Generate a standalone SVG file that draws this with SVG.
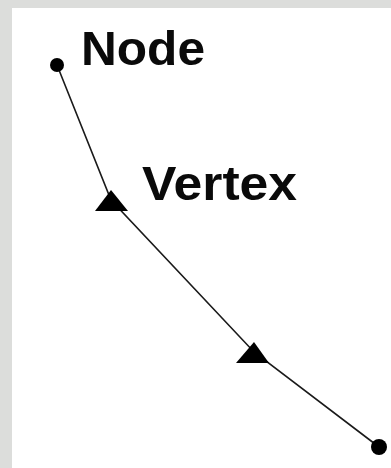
<svg xmlns="http://www.w3.org/2000/svg" width="391" height="468" viewBox="0 0 391 468">
<style>
.lbl{font-family:"Liberation Sans",Arial,sans-serif;font-weight:bold;font-size:49px;fill:#0a0a0a}
.edge{fill:none;stroke:#1a1a1a;stroke-width:1.6}
.dot{fill:#000}
.tri{fill:#000}
</style>
<rect x="0" y="0" width="391" height="468" fill="#dcdddb"/>
<rect x="12" y="8" width="379" height="460" fill="#ffffff"/>
<g id="connectors">
<polyline class="edge" points="57,65 111,200 254,352 379,447"/>
</g>
<g id="node-start">
<circle class="dot" cx="57" cy="65" r="7"/>
<text class="lbl" x="81" y="65" textLength="124" lengthAdjust="spacingAndGlyphs">Node</text>
</g>
<g id="vertex-1">
<polygon class="tri" points="111,190 95,211 128,211"/>
<text class="lbl" x="142" y="200" textLength="155" lengthAdjust="spacingAndGlyphs">Vertex</text>
</g>
<g id="vertex-2">
<polygon class="tri" points="254,342 236,363 269,363"/>
</g>
<g id="node-end">
<circle class="dot" cx="379" cy="447" r="8"/>
</g>
</svg>
